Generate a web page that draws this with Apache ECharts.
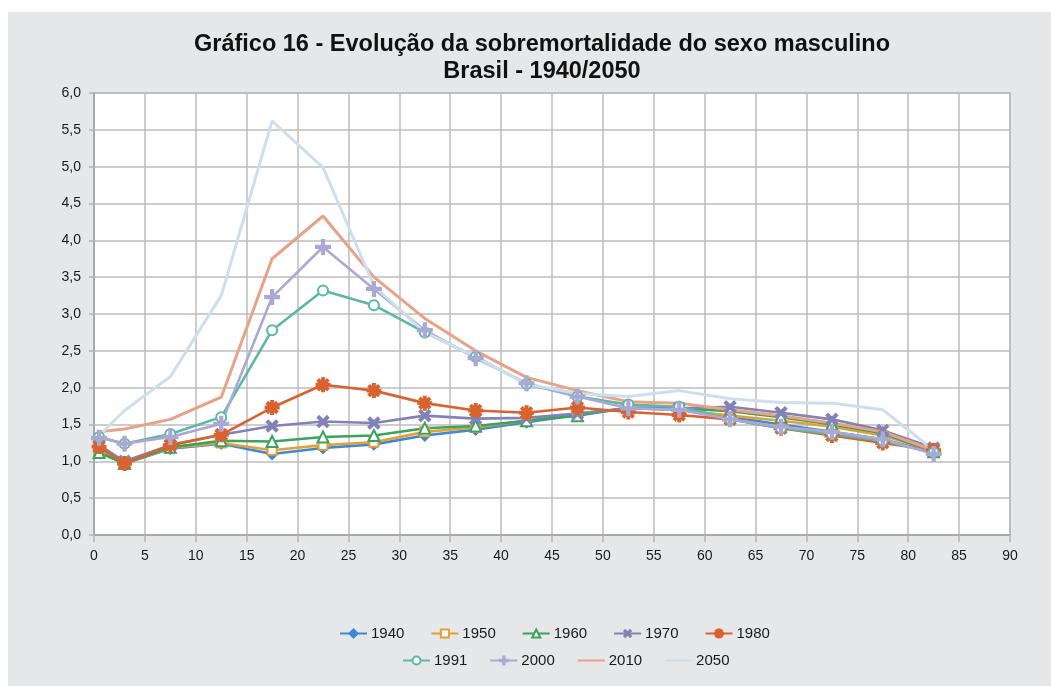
<!DOCTYPE html>
<html>
<head>
<meta charset="utf-8">
<script src="https://cdn.jsdelivr.net/npm/echarts@6/dist/echarts.min.js"></script>
<style>
  html, body { margin: 0; padding: 0; background: #fff; }
  .panel { position: absolute; left: 8px; top: 12px; right: 0; bottom: 0; background: #e6e7e8; }
  #chart { position: absolute; left: 0; top: 0; width: 1051px; height: 686px; }
</style>
</head>
<body>
<div class="panel"></div>
<div id="chart"></div>
<script>
// idade (ponto médio do grupo etário)
var ages = [0.5, 3, 7.5, 12.5, 17.5, 22.5, 27.5, 32.5, 37.5, 42.5, 47.5, 52.5, 57.5, 62.5, 67.5, 72.5, 77.5, 82.5];

var y1940 = [1.13, 0.97, 1.17, 1.24, 1.10, 1.18, 1.23, 1.35, 1.43, 1.53, 1.63, 1.72, 1.70, 1.60, 1.50, 1.40, 1.30, 1.12];
var y1950 = [1.15, 0.97, 1.18, 1.25, 1.15, 1.22, 1.26, 1.40, 1.46, 1.55, 1.65, 1.72, 1.70, 1.62, 1.55, 1.47, 1.35, 1.14];
var y1960 = [1.12, 0.97, 1.19, 1.28, 1.27, 1.33, 1.35, 1.45, 1.48, 1.55, 1.62, 1.73, 1.72, 1.68, 1.60, 1.50, 1.38, 1.13];
var y1970 = [1.22, 1.00, 1.22, 1.36, 1.48, 1.54, 1.52, 1.62, 1.58, 1.59, 1.65, 1.72, 1.72, 1.74, 1.66, 1.57, 1.42, 1.18];
var y1980 = [1.20, 0.97, 1.22, 1.36, 1.73, 2.04, 1.96, 1.79, 1.69, 1.66, 1.73, 1.67, 1.63, 1.57, 1.45, 1.35, 1.25, 1.15];
var y1991 = [1.33, 1.24, 1.37, 1.60, 2.78, 3.32, 3.12, 2.75, 2.42, 2.05, 1.88, 1.77, 1.74, 1.57, 1.45, 1.37, 1.28, 1.12];
var y2000 = [1.32, 1.24, 1.33, 1.51, 3.23, 3.91, 3.34, 2.78, 2.40, 2.06, 1.88, 1.72, 1.70, 1.57, 1.47, 1.40, 1.30, 1.10];
var y2010 = [1.40, 1.44, 1.57, 1.87, 3.75, 4.33, 3.50, 2.94, 2.50, 2.14, 1.96, 1.81, 1.79, 1.70, 1.62, 1.52, 1.40, 1.15];
var y2050 = [1.35, 1.69, 2.15, 3.25, 5.62, 4.99, 3.38, 2.75, 2.42, 2.05, 1.92, 1.88, 1.96, 1.85, 1.80, 1.79, 1.70, 1.15];

var legendRow1 = ['1940', '1950', '1960', '1970', '1980'];
var legendRow2 = ['1991', '2000', '2010', '2050'];

// simbolos: cruz fina e asterisco de 8 pontas (contorno sem sobreposicao)
var plusPath = 'path://M4.2,0 H5.8 V4.2 H10 V5.8 H5.8 V10 H4.2 V5.8 H0 V4.2 H4.2 Z';
function starSymbol(arms, w) {
  var pts = [], R = 5, step = Math.PI * 2 / arms;
  var r = w / Math.sin(step / 2);
  for (var k = 0; k < arms; k++) {
    var a = k * step, ca = Math.cos(a), sa = Math.sin(a);
    var b = a - step / 2;
    pts.push([5 + r * Math.cos(b), 5 + r * Math.sin(b)]);
    pts.push([5 + R * ca + w * sa, 5 + R * sa - w * ca]);
    pts.push([5 + R * ca - w * sa, 5 + R * sa + w * ca]);
  }
  return 'path://M' + pts.map(function (p) { return p[0].toFixed(2) + ',' + p[1].toFixed(2); }).join(' L') + ' Z';
}
var starPath = starSymbol(8, 0.75);

function pairs(ys) {
  return ages.map(function (a, i) { return [a, ys[i]]; });
}

function serie(name, ys, color, symbol, size, extra) {
  var s = {
    name: name,
    type: 'line',
    data: pairs(ys),
    symbol: symbol,
    symbolSize: size,
    showSymbol: symbol !== 'none',
    lineStyle: { color: color, width: 2.6 },
    itemStyle: { color: color, borderColor: color, borderWidth: 2 },
    emphasis: { disabled: true }
  };
  if (extra) Object.assign(s, extra);
  return s;
}

function legendItems(names) {
  return names.map(function (n) {
    if (n === '2010' || n === '2050') return { name: n, itemStyle: { opacity: 0 } };
    return { name: n };
  });
}

var chart = echarts.init(document.getElementById('chart'), null, { renderer: 'canvas' });

var option = {
  animation: false,
  textStyle: { fontFamily: 'Liberation Sans, Arial, sans-serif' },
  title: {
    text: 'Gráfico 16 - Evolução da sobremortalidade do sexo masculino\nBrasil - 1940/2050',
    left: 537,
    top: 26,
    textAlign: 'center',
    textStyle: { fontSize: 23.5, fontWeight: 'bold', color: '#111', lineHeight: 27, fontFamily: 'Liberation Sans, Arial, sans-serif' }
  },
  legend: [
    {
      data: legendItems(legendRow1),
      left: 339, top: 626, padding: 0,
      itemWidth: 27, itemHeight: 10, itemGap: 26,
      textStyle: { fontSize: 15, color: '#1a1a1a', padding: [0, 0, 0, -1] }
    },
    {
      data: legendItems(legendRow2),
      left: 402, top: 653, padding: 0,
      itemWidth: 27, itemHeight: 10, itemGap: 22,
      textStyle: { fontSize: 15, color: '#1a1a1a', padding: [0, 0, 0, -1] }
    }
  ],
  grid: {
    left: 94, right: 41, top: 93, bottom: 151,
    show: true, backgroundColor: '#ffffff', borderColor: '#b4b4b4', borderWidth: 1.5
  },
  xAxis: {
    type: 'value',
    min: 0, max: 90, interval: 5,
    axisLine: { show: true, lineStyle: { color: '#a8a8a8', width: 2 } },
    axisTick: { show: true, length: 7, lineStyle: { color: '#b4b4b4', width: 1.5 } },
    splitLine: { show: true, lineStyle: { color: '#bdbdbd', width: 1.5 } },
    axisLabel: { fontSize: 14, color: '#1a1a1a', margin: 14 }
  },
  yAxis: {
    type: 'value',
    min: 0, max: 6, interval: 0.5,
    axisLine: { show: true, lineStyle: { color: '#a8a8a8', width: 2 } },
    axisTick: { show: true, length: 5, lineStyle: { color: '#b4b4b4', width: 1.5 } },
    splitLine: { show: true, lineStyle: { color: '#bdbdbd', width: 1.5 } },
    axisLabel: {
      fontSize: 14, color: '#1a1a1a', margin: 13,
      formatter: function (v) { return v.toFixed(1).replace('.', ','); }
    }
  },
  series: [
    serie('1940', y1940, '#3a8ad6', 'diamond', 10),
    serie('1950', y1950, '#e3a037', 'emptyRect', 9),
    serie('1960', y1960, '#3ca35c', 'emptyTriangle', 11),
    serie('1970', y1970, '#8282b9', plusPath, 13, { symbolRotate: 45 }),
    serie('1980', y1980, '#d8632f', starPath, 13),
    serie('1991', y1991, '#5ab8a5', 'emptyCircle', 10),
    serie('2000', y2000, '#aca8d6', plusPath, 14),
    serie('2010', y2010, '#e8a286', 'none', 0, { lineStyle: { color: '#e8a286', width: 3 } }),
    serie('2050', y2050, '#cddeed', 'none', 0, { lineStyle: { color: '#cddeed', width: 3 } })
  ]
};

chart.setOption(option);
window.addEventListener('resize', function () { chart.resize(); });
</script>
</body>
</html>
